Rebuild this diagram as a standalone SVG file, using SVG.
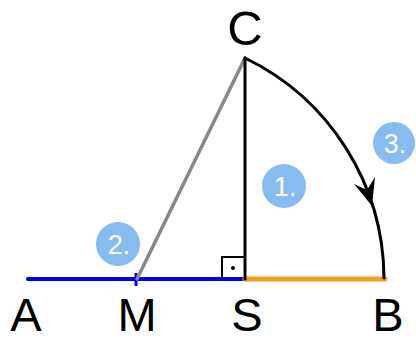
<svg xmlns="http://www.w3.org/2000/svg" width="416" height="341" viewBox="0 0 416 341">
<style>
.lbl{font-family:"Liberation Sans",Arial,sans-serif;font-size:49px;fill:#000;text-anchor:middle}
.bot{font-size:47px}
.num circle{fill:#86bcf0}
.num text{font-family:"Liberation Sans",Arial,sans-serif;font-size:27px;fill:#fff;text-anchor:middle}
</style>
<rect width="416" height="341" fill="#fff"/>
<g id="connectors" fill="none" stroke-linecap="round">
<line id="AS" x1="28" y1="279" x2="245" y2="279" stroke="#0000ee" stroke-width="4"/>
<line id="SB" x1="245" y1="279" x2="385" y2="279" stroke="#f0a020" stroke-width="5"/>
<line id="M-tick" x1="136" y1="273" x2="136" y2="286" stroke="#0000ee" stroke-width="3" stroke-linecap="butt"/>
<line id="CM" x1="245" y1="58" x2="137" y2="279" stroke="#888" stroke-width="3.5"/>
<line id="CS" x1="245" y1="58" x2="245" y2="279" stroke="#000" stroke-width="3"/>
<polyline id="right-angle" points="222,279 222,257 245,257" stroke="#000" stroke-width="2" stroke-linecap="butt"/>
<path id="arc" d="M 245 58 A 246 246 0 0 1 384 278" stroke="#000" stroke-width="3"/>
<path id="arrowhead" d="M 372 206 L 354 184 L 367 190 L 375 177 Z" fill="#000" stroke="none"/>
</g>
<circle id="dot" cx="233" cy="268" r="2" fill="#000"/>
<g id="label-C"><text class="lbl" x="245" y="45">C</text></g>
<g id="label-A"><text class="lbl bot" x="26" y="330.5">A</text></g>
<g id="label-M"><text class="lbl bot" x="137" y="330.5">M</text></g>
<g id="label-S"><text class="lbl bot" x="247" y="330.5">S</text></g>
<g id="label-B"><text class="lbl bot" x="388" y="330.5">B</text></g>
<g id="step1" class="num"><circle cx="284" cy="186" r="22"/><text x="285" y="196">1.</text></g>
<g id="step2" class="num"><circle cx="118" cy="244" r="22"/><text x="119" y="254">2.</text></g>
<g id="step3" class="num"><circle cx="394" cy="143" r="21"/><text x="395" y="153">3.</text></g>
</svg>
